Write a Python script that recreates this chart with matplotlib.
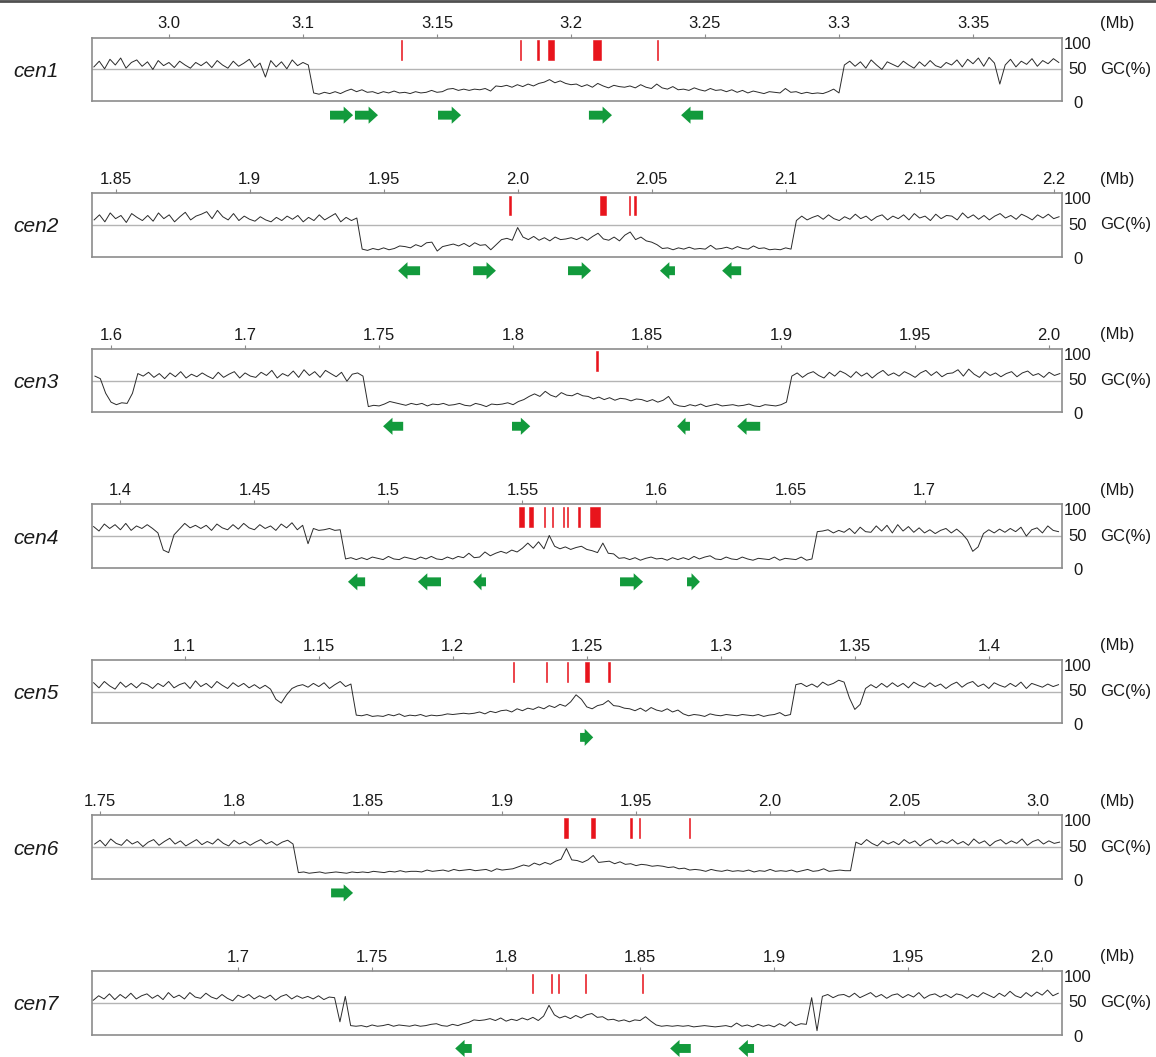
import numpy as np
import matplotlib
matplotlib.use('Agg')
import matplotlib.pyplot as plt
from matplotlib.patches import FancyArrow
from matplotlib.lines import Line2D

plt.rcParams['font.family'] = ['Liberation Sans', 'DejaVu Sans']

names = ['cen1', 'cen2', 'cen3', 'cen4', 'cen5', 'cen6', 'cen7']

# GC content in 2 kb windows (%), window start of each panel (Mb)
win_step = 0.002
gc_start = [3.022, 1.842, 1.644, 1.390, 1.066, 1.748, 1.646]

cen1_gc = [54, 63, 51, 66, 57, 68, 52, 61, 65, 55,
           62, 50, 64, 56, 61, 53, 63, 57, 52, 61,
           56, 62, 53, 64, 57, 52, 63, 55, 60, 66,
           53, 60, 38, 64, 54, 62, 51, 65, 56, 61,
           57, 13, 11, 14, 12, 15, 12, 16, 19, 15,
           18, 14, 15, 12, 15, 13, 16, 13, 14, 12,
           15, 13, 14, 17, 14, 15, 19, 20, 17, 19,
           17, 19, 18, 20, 16, 24, 23, 25, 22, 26,
           23, 27, 24, 28, 30, 34, 29, 32, 28, 26,
           27, 23, 26, 22, 28, 24, 21, 25, 23, 22,
           24, 21, 26, 22, 20, 27, 21, 19, 23, 18,
           19, 17, 21, 18, 16, 20, 17, 18, 15, 18,
           14, 17, 13, 16, 14, 12, 15, 14, 13, 20,
           14, 15, 12, 14, 12, 13, 12, 15, 19, 13,
           57, 63, 55, 62, 52, 65, 57, 50, 62, 58,
           54, 63, 57, 52, 62, 55, 64, 56, 53, 61,
           57, 65, 54, 66, 59, 68, 55, 69, 60, 27,
           57, 66, 54, 63, 58, 67, 55, 64, 59, 67,
           61]
cen2_gc = [58, 66, 55, 69, 60, 65, 54, 68, 62, 57,
           65, 56, 69, 60, 66, 55, 63, 70, 58, 64,
           67, 71, 60, 73, 63, 58, 68, 57, 64, 59,
           56, 63, 58, 55, 62, 57, 64, 59, 65, 55,
           62, 57, 66, 58, 63, 68, 55, 62, 57, 61,
           12, 10, 13, 11, 14, 11, 13, 17, 16, 14,
           19, 16, 22, 23, 9, 16, 18, 20, 17, 21,
           16, 22, 18, 19, 11, 19, 27, 29, 26, 46,
           31, 27, 32, 26, 30, 25, 31, 27, 28, 30,
           27, 31, 26, 32, 37, 28, 26, 31, 25, 34,
           39, 27, 31, 25, 23, 19, 13, 14, 11, 14,
           12, 15, 12, 13, 12, 18, 12, 13, 15, 12,
           16, 13, 12, 17, 13, 14, 11, 12, 11, 14,
           12, 57, 64, 58, 62, 65, 59, 66, 60, 57,
           63, 59, 67, 60, 64, 57, 63, 66, 58, 64,
           60, 66, 58, 68, 61, 64, 57, 67, 60, 65,
           64, 58, 69, 61, 66, 59, 65, 58, 64, 68,
           61, 65, 59, 67, 63, 58, 66, 61, 67, 60,
           63]
cen3_gc = [57, 53, 30, 16, 12, 15, 14, 30, 61, 57,
           63, 55, 61, 53, 62, 56, 64, 54, 60, 56,
           62, 57, 53, 63, 55, 60, 64, 54, 62, 57,
           55, 63, 58, 66, 54, 61, 57, 65, 55, 67,
           58, 64, 55, 66, 61, 56, 63, 49, 60, 62,
           57, 9, 11, 10, 13, 17, 15, 13, 11, 14,
           12, 14, 10, 13, 12, 14, 11, 12, 14, 11,
           10, 14, 12, 9, 13, 12, 13, 15, 12, 17,
           20, 25, 29, 25, 33, 27, 24, 31, 27, 26,
           30, 26, 25, 21, 24, 20, 23, 19, 22, 21,
           18, 21, 20, 17, 20, 16, 19, 25, 13, 10,
           9, 12, 10, 13, 9, 11, 13, 10, 11, 12,
           10, 11, 13, 10, 9, 12, 11, 10, 12, 16,
           57, 62, 55, 61, 64, 58, 54, 63, 57, 65,
           61, 55, 64, 57, 62, 54, 61, 66, 58, 62,
           57, 64, 60, 55, 62, 66, 58, 64, 56, 61,
           62, 67, 57, 68, 60, 55, 64, 58, 62, 56,
           61, 64, 56, 62, 65, 58, 61, 55, 63, 58,
           61]
cen4_gc = [65, 58, 69, 62, 68, 60, 70, 59, 66, 62,
           68, 62, 55, 28, 24, 52, 61, 70, 63, 67,
           62, 67, 59, 69, 63, 60, 68, 61, 70, 63,
           60, 68, 62, 66, 59, 69, 63, 71, 60, 67,
           38, 62, 59, 60, 62, 59, 60, 14, 16, 13,
           16, 13, 17, 15, 13, 18, 14, 13, 17, 15,
           13, 17, 14, 18, 14, 13, 17, 14, 18, 16,
           23, 16, 17, 25, 19, 23, 26, 23, 28, 25,
           31, 39, 31, 41, 30, 51, 34, 30, 33, 29,
           32, 34, 29, 27, 24, 39, 23, 22, 15, 16,
           13, 16, 12, 15, 17, 14, 15, 12, 16, 13,
           16, 13, 18, 14, 17, 19, 14, 13, 17, 14,
           13, 17, 14, 12, 15, 14, 13, 17, 12, 15,
           14, 13, 17, 12, 14, 57, 58, 60, 55, 59,
           56, 62, 54, 64, 57, 56, 66, 58, 67, 55,
           68, 58, 65, 56, 63, 55, 60, 54, 59, 62,
           55, 61, 54, 44, 26, 33, 54, 60, 55, 61,
           56, 62, 57, 64, 50, 60, 63, 55, 66, 59,
           57]
cen5_gc = [64, 56, 66, 59, 54, 65, 57, 63, 56, 64,
           61, 55, 63, 58, 66, 56, 61, 64, 55, 67,
           58, 63, 56, 66, 60, 55, 64, 58, 63, 56,
           61, 55, 60, 54, 38, 32, 45, 55, 59, 61,
           57, 63, 58, 64, 55, 61, 66, 58, 62, 13,
           12, 14, 11, 12, 11, 14, 12, 15, 11, 13,
           12, 14, 11, 13, 12, 13, 15, 14, 15, 16,
           15, 16, 18, 15, 19, 17, 20, 21, 18, 23,
           20, 24, 22, 26, 23, 28, 25, 30, 27, 34,
           45, 38, 26, 23, 28, 30, 36, 28, 27, 24,
           23, 20, 24, 19, 25, 21, 19, 23, 18, 21,
           15, 12, 14, 13, 11, 15, 13, 12, 14, 13,
           12, 14, 13, 12, 14, 11, 13, 14, 17, 12,
           14, 61, 63, 58, 62, 57, 65, 60, 63, 68,
           65, 40, 22, 30, 55, 61, 56, 63, 57, 64,
           58, 63, 56, 65, 60, 57, 64, 58, 62, 55,
           61, 65, 57, 63, 66, 58, 62, 55, 64, 60,
           57, 63, 58, 65, 55, 63, 60, 57, 62, 58,
           61]
cen6_gc = [55, 61, 52, 63, 56, 53, 62, 55, 59, 51,
           58, 62, 53, 59, 64, 55, 60, 52, 57, 62,
           54, 59, 55, 63, 56, 52, 61, 55, 59, 53,
           58, 62, 55, 59, 53, 58, 61, 55, 10, 11,
           9, 10, 11, 9, 10, 11, 10, 9, 11, 10,
           11, 10, 12, 11, 10, 12, 11, 13, 11, 12,
           12, 11, 14, 12, 13, 14, 12, 15, 13, 14,
           15, 13, 14, 15, 12, 16, 14, 15, 16, 19,
           22, 20, 25, 22, 26, 23, 28, 31, 48, 30,
           29, 26, 30, 37, 26, 27, 28, 24, 27, 23,
           24, 21, 23, 22, 20, 21, 20, 18, 19, 16,
           17, 14, 15, 14, 12, 15, 13, 12, 14, 12,
           13, 12, 14, 11, 13, 12, 15, 12, 13, 12,
           14, 11, 13, 15, 12, 13, 16, 12, 13, 14,
           13, 13, 58, 54, 62, 56, 52, 60, 55, 59,
           54, 62, 56, 60, 52, 59, 63, 55, 60, 56,
           62, 55, 59, 53, 63, 56, 60, 52, 59, 62,
           55, 60, 56, 63, 53, 59, 62, 55, 60, 56,
           58]
cen7_gc = [54, 61, 56, 64, 55, 63, 57, 65, 56, 61,
           64, 57, 62, 55, 66, 58, 62, 56, 66, 59,
           57, 65, 59, 56, 63, 57, 53, 62, 58, 63,
           56, 61, 57, 62, 54, 60, 63, 56, 61, 57,
           60, 56, 61, 55, 59, 58, 20, 60, 14, 13,
           14, 12, 15, 13, 14, 16, 13, 15, 14, 13,
           15, 13, 14, 16, 17, 14, 13, 16, 14, 17,
           19, 23, 22, 23, 25, 22, 26, 21, 24, 22,
           26, 23, 27, 22, 29, 46, 31, 26, 29, 25,
           30, 26, 31, 33, 27, 28, 23, 24, 21, 23,
           20, 23, 22, 28, 21, 15, 13, 14, 13, 14,
           13, 14, 12, 13, 14, 13, 12, 13, 14, 12,
           18, 13, 15, 12, 16, 13, 15, 12, 17, 13,
           20, 14, 17, 16, 58, 6, 60, 63, 58, 62,
           63, 59, 65, 58, 62, 66, 59, 63, 57, 62,
           64, 58, 63, 59, 66, 57, 62, 64, 59, 63,
           58, 64, 62, 57, 63, 59, 66, 62, 58, 65,
           60, 68, 61, 58, 66, 60, 67, 62, 70, 61,
           65]
gc_values = [cen1_gc, cen2_gc, cen3_gc, cen4_gc, cen5_gc, cen6_gc, cen7_gc]

# visible range of each panel (Mb)
view_left = [3.0213, 1.8412, 1.6429, 1.3894, 1.0654, 1.7470, 1.6455]
view_span = 0.3619

# scale ticks (positions in Mb) and the labels as printed
tick_pos = [
    [3.05, 3.10, 3.15, 3.20, 3.25, 3.30, 3.35],
    [1.85, 1.90, 1.95, 2.00, 2.05, 2.10, 2.15, 2.20],
    [1.65, 1.70, 1.75, 1.80, 1.85, 1.90, 1.95, 2.00],
    [1.40, 1.45, 1.50, 1.55, 1.60, 1.65, 1.70],
    [1.10, 1.15, 1.20, 1.25, 1.30, 1.35, 1.40],
    [1.75, 1.80, 1.85, 1.90, 1.95, 2.00, 2.05, 2.10],
    [1.70, 1.75, 1.80, 1.85, 1.90, 1.95, 2.00],
]
tick_text = [
    ['3.0', '3.1', '3.15', '3.2', '3.25', '3.3', '3.35'],
    ['1.85', '1.9', '1.95', '2.0', '2.05', '2.1', '2.15', '2.2'],
    ['1.6', '1.7', '1.75', '1.8', '1.85', '1.9', '1.95', '2.0'],
    ['1.4', '1.45', '1.5', '1.55', '1.6', '1.65', '1.7'],
    ['1.1', '1.15', '1.2', '1.25', '1.3', '1.35', '1.4'],
    ['1.75', '1.8', '1.85', '1.9', '1.95', '2.0', '2.05', '3.0'],
    ['1.7', '1.75', '1.8', '1.85', '1.9', '1.95', '2.0'],
]

# red marks: (centre Mb, width Mb)
red_marks = [
    [(3.1369, 0.0004), (3.1810, 0.0004), (3.1877, 0.0007), (3.1926, 0.0022),
     (3.2096, 0.0030), (3.2324, 0.0004)],
    [(1.9972, 0.0005), (2.0319, 0.0020), (2.0419, 0.0004), (2.0438, 0.0004)],
    [(1.8313, 0.0005)],
    [(1.5497, 0.0017), (1.5532, 0.0013), (1.5582, 0.0004), (1.5612, 0.0004),
     (1.5653, 0.0004), (1.5669, 0.0004), (1.5711, 0.0004), (1.5770, 0.0035)],
    [(1.2225, 0.0004), (1.2349, 0.0004), (1.2427, 0.0004), (1.2501, 0.0018),
     (1.2583, 0.0004)],
    [(1.9239, 0.0016), (1.9339, 0.0014), (1.9481, 0.0004), (1.9511, 0.0004),
     (1.9698, 0.0004)],
    [(1.8099, 0.0005), (1.8170, 0.0005), (1.8195, 0.0005), (1.8297, 0.0005),
     (1.8510, 0.0005)],
]

# genes: (start Mb, end Mb, strand)
genes = [
    [(3.1101, 3.1187, '+'), (3.1194, 3.1280, '+'), (3.1504, 3.1590, '+'),
     (3.2067, 3.2153, '+'), (3.2411, 3.2493, '-')],
    [(1.9554, 1.9636, '-'), (1.9834, 1.9919, '+'), (2.0188, 2.0274, '+'),
     (2.0531, 2.0587, '-'), (2.0763, 2.0834, '-')],
    [(1.7515, 1.7590, '-'), (1.7996, 1.8064, '+'), (1.8612, 1.8660, '-'),
     (1.8836, 1.8922, '-')],
    [(1.4849, 1.4913, '-'), (1.5110, 1.5196, '-'), (1.5316, 1.5364, '-'),
     (1.5864, 1.5950, '+'), (1.6114, 1.6162, '+')],
    [(1.2475, 1.2524, '+')],
    [(1.8362, 1.8444, '+')],
    [(1.7810, 1.7872, '-'), (1.8612, 1.8689, '-'), (1.8867, 1.8925, '-')],
]

W, H = 1156, 1057
fig = plt.figure(figsize=(W / 100, H / 100), dpi=100)
fig.add_artist(Line2D([0, 1], [0.999, 0.999], color='#505050', lw=2))

box_l, box_w, box_h = 92, 970, 63.5
frame_col = '#8c8c8c'
red = '#e8141c'
green = '#129a3c'

for i in range(7):
    top = 37.7 + 155.55 * i
    ax = fig.add_axes([box_l / W, 1 - (top + box_h) / H, box_w / W, box_h / H])
    x0 = view_left[i]
    ax.set_xlim(x0, x0 + view_span)
    ax.set_ylim(0, 100)

    ax.axhline(50, color='#b4b4b4', lw=1, zorder=1)
    vals = np.array(gc_values[i])
    xs = gc_start[i] + win_step * np.arange(len(vals))
    ax.plot(xs, vals, color='#2a2a2a', lw=0.7, zorder=3)

    for c, w in red_marks[i]:
        ax.bar(c, 31, width=w, bottom=65, color=red, linewidth=0.4,
               edgecolor=red, zorder=2)

    for s, e, strand in genes[i]:
        L = e - s
        hl = min(0.0035, 0.65 * L)
        if strand == '+':
            start, d = s, L
        else:
            start, d = e, -L
        ax.add_patch(FancyArrow(start, -22, d, 0, width=14, head_width=27,
                                head_length=hl, length_includes_head=True,
                                color=green, lw=0, clip_on=False))

    for sp in ax.spines.values():
        sp.set_color(frame_col)
        sp.set_linewidth(1.2)
    ax.set_yticks([])
    ax.xaxis.tick_top()
    ax.set_xticks(tick_pos[i])
    ax.set_xticklabels(tick_text[i])
    ax.tick_params(axis='x', direction='out', length=3, width=0.8,
                   color=frame_col, pad=1.5, labelsize=12, labelcolor='#1a1a1a')

    ax.text(-0.0814, 0.47, names[i], transform=ax.transAxes, fontsize=15,
            style='italic', ha='left', va='center', color='#1a1a1a')
    ax.text(1.0165, 0.9, '100', transform=ax.transAxes, fontsize=12,
            ha='center', va='center', color='#1a1a1a')
    ax.text(1.0165, 0.5, '50', transform=ax.transAxes, fontsize=12,
            ha='center', va='center', color='#1a1a1a')
    ax.text(1.039, 0.5, 'GC(%)', transform=ax.transAxes, fontsize=12,
            ha='left', va='center', color='#1a1a1a')
    ax.text(1.0165, -0.04, '0', transform=ax.transAxes, fontsize=12,
            ha='center', va='center', color='#1a1a1a')
    ax.text(1.0567, 1.153, '(Mb)', transform=ax.transAxes, fontsize=12,
            ha='center', va='baseline', color='#1a1a1a')

fig.savefig('out.png', dpi=100)
